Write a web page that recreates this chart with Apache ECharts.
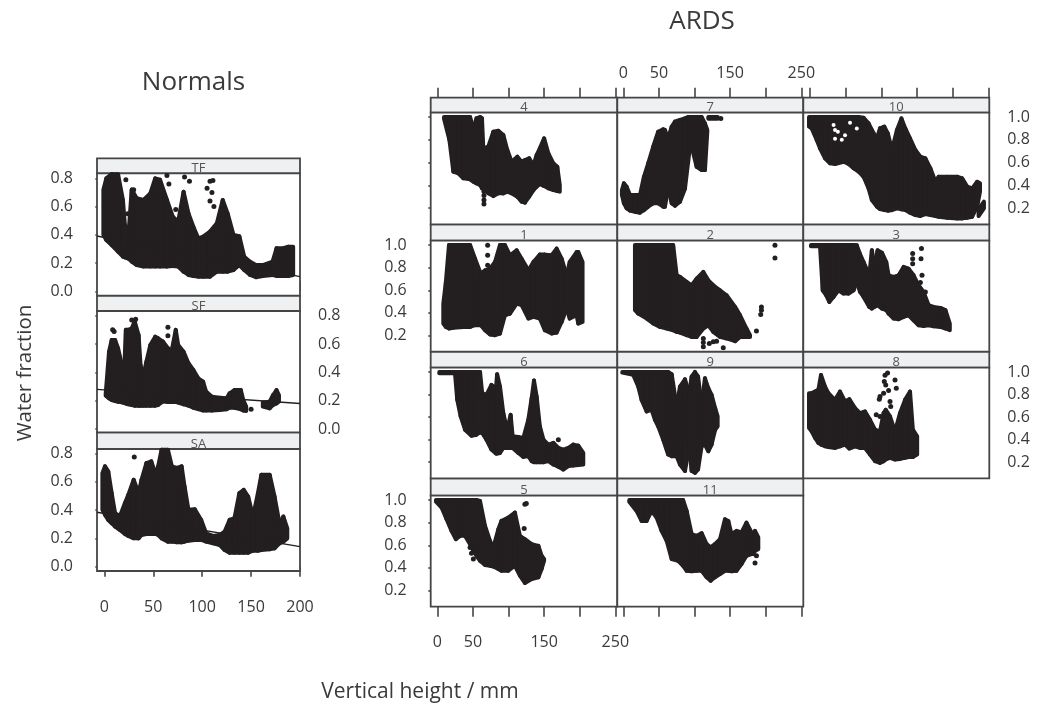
<!DOCTYPE html>
<html>
<head>
<meta charset="utf-8">
<title>Water fraction by vertical height</title>
<script src="https://cdn.jsdelivr.net/npm/echarts@6/dist/echarts.min.js"></script>
<style>
  html,body{margin:0;padding:0;background:#fff;}
  #main{width:1038px;height:709px;}
</style>
</head>
<body>
<div id="main"></div>
<script>
// blobs are far too dense to read point by point, so each one is read as columns of [height, low, high]
// null = gap in the blob

const bandTF=[[-1,.40,.72],[2,.364,.80],[7.5,.328,.83],[14,.281,.83],[19,.245,.647],[21,.24,.47],[25,.23,.434],[28,.21,.722],[33,.186,.659],[40,.175,.647],[47,.175,.694],[52,.175,.80],[57,.175,.79],[64,.175,.647],[70,.18,.529],[75.5,.175,.493],[81,.139,.706],[86,.116,.552],[91,.109,.458],[96,.104,.375],[101,.104,.387],[108,.104,.423],[115,.139,.482],[121,.139,.647],[126,.139,.552],[132,.151,.40],[138,.186,.39],[143,.151,.245],[149,.116,.21],[155,.10,.186],[162,.109,.186],[172,.116,.21],[176,.109,.305],[183,.109,.305],[188,.109,.316],[193,.116,.316]];
const dotsTF=[[22,.79],[30,.72],[24,.55],[64,.82],[66,.76],[82,.81],[87,.78],[108,.78],[111,.785],[105,.73],[110,.70],[108,.64],[112,.60],[73,.58]];
const fitTF=[[-7.5,.392],[200,.104]];

const bandSF=[[1.4,.235,.25],[4.8,.217,.546],[7.5,.205,.629],[11,.198,.629],[14,.193,.57],[18,.188,.452],[20,.185,.36],[22,.18,.70],[24.5,.175,.70],[28,.17,.71],[31,.165,.76],[35,.165,.664],[37,.165,.452],[40,.165,.381],[43,.165,.476],[47,.165,.593],[52,.165,.652],[55,.17,.64],[60,.195,.617],[65,.19,.57],[69,.19,.558],[73,.19,.70],[75.5,.187,.593],[81,.175,.546],[86,.165,.464],[91,.15,.417],[96,.14,.358],[101,.13,.334],[104,.13,.264],[110,.13,.228],[118,.135,.221],[125,.14,.217],[128,.15,.252],[133,.15,.275],[139.5,.14,.275],[142,.13,.205],[145,.127,.158],null,[162,.158,.188],[169,.146,.193],[172.5,.17,.24],[176,.181,.275],[178.5,.193,.24]];
const dotsSF=[[8.5,.70],[10,.688],[65,.718],[65,.659],[150,.139],[28,.77],[32,.775]];
const fitSF=[[-7.5,.28],[200,.18]];

const bandSA=[[-2,.401,.66],[.7,.366,.708],[4,.33,.672],[7.5,.307,.519],[11,.283,.377],[16,.259,.358],[21,.231,.448],[24.5,.217,.507],[30,.20,.613],[35,.20,.519],[38,.224,.613],[43,.231,.731],[48,.231,.743],[52,.231,.66],[55,.224,.708],[58.5,.20,.825],[65,.177,.825],[69,.177,.708],[74,.172,.696],[79,.172,.708],[82,.177,.566],[86,.184,.401],[92.5,.189,.406],[99,.189,.33],[104,.177,.236],[111,.165,.217],[118,.153,.224],[123,.118,.248],[128,.099,.33],[133,.099,.342],[138,.099,.519],[142.5,.099,.542],[147,.099,.495],[152,.113,.354],[157,.113,.519],[160.5,.118,.649],[169,.123,.649],[174,.13,.495],[179,.165,.307],[183,.177,.354],[187,.20,.271]];
const dotsSA=[[30.6,.774]];
const fitSA=[[-7.5,.384],[200,.142]];

const band4=[[9.4,.985,1],[17,.798,1],[22.5,.52,1],[29.5,.505,1],[36.5,.461,1],[46,.452,1],[50.6,.431,.90],[55,.417,.988],[60,.402,1],[62.7,.373,.99],[64.6,.388,.725],[71.6,.329,.739],[78.7,.305,.871],[85.7,.329,.88],[92.7,.329,.842],[98.3,.344,.71],[104.4,.329,.607],[112.4,.30,.651],[118.4,.256,.607],[123,.247,.622],[129,.30,.637],[135,.358,.578],[139.5,.388,.666],[144,.411,.725],[150,.393,.812],[156,.373,.68],[163,.358,.593],[168.5,.35,.563],[172,.344,.402]];
const dots4=[[65.5,.345],[65.5,.31],[65.5,.27],[65.5,.235]];

const band7=[[-1.9,.314,.358],[.9,.241,.417],[4.7,.197,.388],[9.4,.177,.314],[16.4,.168,.314],[23.4,.159,.314],[29,.182,.475],[35,.212,.593],[42,.241,.739],[49,.241,.871],[56,.212,.892],[58.5,.212,.886],[63,.373,.812],[68,.241,.915],[72.6,.22,.959],[79.6,.256,.974],[86.6,.37,.988],[91,.60,1],[93.6,.739,1],[96,.739,1],[103,.563,1],[110,.534,1],[114.7,.534,.944],[118,.871,.886],null,[119.4,.985,1],[132.6,.985,1]];
const dots7=[[137,.988]];

const band10=[[-1.4,.915,1],[2.3,.90,1],[9.4,.798,1],[14,.725,1],[21,.637,1],[28,.593,1],[35,.587,1],[47,.607,1],[54,.587,1],[61,.549,1],[68,.52,1],[75,.475,.994],[82,.373,.944],[86.6,.27,.886],[93.6,.212,.812],[98,.191,.90],[104,.182,.915],[109,.177,.856],[114.7,.182,.71],[121.7,.197,.886],[128,.188,.988],[133.4,.182,.90],[140,.159,.812],[147.5,.138,.71],[154.5,.13,.651],[161.5,.147,.637],[168.5,.138,.549],[175.6,.13,.431],[180,.124,.475],[192,.115,.475],[206,.109,.475],[213,.109,.461],[220,.115,.388],[227,.124,.373],[234,.212,.431],[238,.344,.417],null,[236,.13,.19],[243.5,.197,.256]];
const holes10=[[33,.93],[35,.886],[39,.87],[35,.81],[44.5,.80],[49,.84],[56,.95],[65.5,.90]];

const band1=[[8.4,.306,.482],[12,.276,.674],[16.4,.262,1],[22.5,.268,1],[36.5,.276,1],[46,.276,1],[53,.291,.879],[61,.291,.747],[67,.247,.776],[74,.209,.791],[81,.203,.85],[88,.218,1],[95,.379,1],[102,.394,.909],[111.4,.482,.953],[118.4,.468,.879],[128,.35,.776],[135,.365,.85],[144,.35,.915],[151,.247,.915],[160.6,.218,.909],[167.6,.226,.968],[174.6,.32,.879],[181.6,.438,.732],[186,.35,.85],[195.7,.379,.938],[198,.306,.938],[204,.32,.85]];
const dots1=[[70.7,.997],[70.7,.91],[70.7,.82]];

const band2=[[16.4,.424,1],[21,.394,1],[33,.35,1],[42,.306,1],[51.5,.276,1],[61,.262,1],[70,.247,1],[75,.232,.732],[79.6,.226,.718],[89,.203,.674],[96,.188,.644],[103,.188,.703],[112.4,.262,.762],[119.4,.291,.688],[126.4,.232,.644],[135.8,.188,.60],[145,.174,.556],[157,.15,.453],[164,.188,.379],[173,.188,.262],[178,.188,.203]];
const dots2=[[112.4,.174],[112.4,.138],[112.4,.10],[120.8,.129],[126.4,.144],[131,.15],[140.4,.091],[187,.241],[194,.453],[194,.424],[193,.385],[213,.997],[213,.885]];

const band3=[[1.4,.99,1],[14,.99,1],[17.8,.60,1],[22.5,.556,1],[27,.497,1],[32.8,.541,1],[39.8,.60,1],[46.8,.571,1],[54,.571,1],[61,.60,1],[65.5,.674,.997],[70,.585,.92],[75,.541,.85],[83,.453,.732],[86.6,.438,.953],[90,.453,.82],[94.6,.468,.953],[100.7,.438,.932],[106.7,.424,.85],[110,.394,.732],[117,.35,.718],[124,.344,.732],[131,.365,.806],[138,.379,.791],[145,.335,.732],[152,.291,.644],[159,.285,.585],[166,.291,.468],[173,.282,.453],[182.6,.276,.444],[189.6,.262,.424],[195.7,.247,.306]];
const dots3=[[143.7,.924],[143.7,.879],[143.7,.835],[156,.968],[155.4,.879],[156.8,.732],[154.5,.668],[161.5,.585]];

const band6=[[2.8,.988,1],[24.8,.988,1],[28,.753,1],[32.8,.606,1],[38.9,.488,1],[48,.435,1],[55,.444,1],[60,.465,1],[63,.459,.812],[69,.40,.797],[76,.312,.885],[82.4,.276,.856],[84,.276,.98],[88,.282,.871],[92.7,.326,.635],[98,.326,.488],[103,.326,.62],[105.8,.326,.429],[113.8,.282,.424],[120.8,.247,.415],[127.8,.253,.576],[132.5,.209,.768],[135.8,.20,.924],[139.5,.20,.782],[144,.20,.518],[149,.20,.40],[156,.209,.356],[163,.179,.371],[170,.159,.326],[177,.135,.312],[184,.165,.326],[191,.171,.356],[198,.174,.347],[205,.179,.282]];
const dots6=[[170,.40]];

const band9=[[-1.4,.994,1],[14,.974,1],[21,.871,1],[25.7,.753,1],[32.8,.65,1],[39.8,.665,1],[44.5,.576,1],[49,.518,1],[56,.40,1],[63,.268,1],[68,.253,.98],[75,.253,.694],[79.6,.179,.871],[86.6,.121,.935],[92.7,.341,.812],[96,.121,.959],[100.7,.106,1],[105,.135,.959],[110,.341,.709],[114.7,.356,.944],[119.4,.297,.856],[124,.356,.797],[129,.488,.679],[132.5,.518,.606]];

const band8=[[-1.4,.503,.812],[2.3,.474,.812],[7,.415,.826],[11.7,.371,.841],[15.4,.356,.974],[21,.341,.871],[25.7,.335,.812],[35,.326,.753],[42,.341,.826],[49,.356,.738],[55,.321,.759],[63,.341,.679],[70,.326,.635],[77,.326,.65],[84,.268,.576],[91,.209,.488],[98,.194,.474],[103,.209,.635],[106,.224,.665],[112,.238,.606],[119,.224,.474],[126,.229,.635],[133,.238,.753],[140,.247,.826],[144,.247,.488],[150,.268,.429]];
const dots8=[[108.6,.99],[105,.97],[119,.93],[104,.915],[106,.885],[120.8,.856],[110,.835],[98,.782],[103,.812],[97,.759],[112,.738],[113,.694],[92.7,.62],[98,.606]];

const band5=[[-1.9,.985,1],[6,.933,1],[13,.83,1],[20,.727,1],[26,.654,1],[32,.683,1],[39,.683,1],[46,.61,1],[50.6,.551,1],[55,.507,1],[60,.463,.991],[67,.425,.771],[74,.419,.639],[78.7,.413,.581],[85.7,.39,.742],[90,.375,.815],[99.7,.375,.845],[109,.419,.889],[116,.331,.683],[123,.267,.654],[132.5,.302,.61],[142,.317,.595],[146.5,.39,.507],[150,.463,.478]];
const dots5=[[123,.962],[125,.97],[122,.748],[46,.58],[50.6,.478],[48,.53]];

const band11=[[8.4,.985,1],[18.7,.903,1],[25.7,.815,1],[32.8,.815,1],[39.8,.903,1],[46.8,.845,1],[53.8,.727,1],[60.9,.639,1],[67.9,.478,1],[77,.463,1],[84,.419,1],[89,.375,.903],[96,.37,.698],[103,.375,.683],[110,.375,.707],[117,.317,.61],[122.7,.287,.581],[128.7,.317,.61],[135.8,.346,.654],[142.8,.375,.83],[147.5,.375,.815],[152,.37,.698],[159,.375,.727],[166,.434,.713],[173,.507,.80],[180,.522,.713],[182.6,.522,.625],[185,.551,.727],[189.6,.566,.669]];
const dots11=[[187,.507],[185,.443]];

const normalTicksX=[0,50,100,150,200];
const normalTicksY=[0,.2,.4,.6,.8];
const ardsTicksX=[0,50,100,150,200,250];
const ardsLabelsX=[0,50,150,250];
const ardsTicksY=[.2,.4,.6,.8,1];

const INK='#231f20';
const FRAME='#454545';
const TEXT='#3a3a3a';
const FONT='"Open Sans"';
const STRIP_FILL='#eff0f2';

// frames in px, [left,right] and [stripTop,plotTop,plotBottom]
const normalX=[97,300];
const normalRows=[[158.3,173.3,295.7],[295.7,311,432.3],[432.3,449,571]];
const ardsCols=[[430.7,617.3],[617.3,803.3],[803.3,989.3]];
const ardsRows=[[97.7,112.7,224.3],[224.3,240.7,351.7],[351.7,367.7,478.3],[478.3,495.7,606.7]];

function normalPanel(name,band,dots,fit,row,yMin,yMax,f){
  return Object.assign({name,band,dots,fit,
    cols:normalX,row:normalRows[row],xMin:-7.5,xMax:200,yMin,yMax,
    ticksX:normalTicksX,labelsX:normalTicksX,ticksY:normalTicksY,tickL:true,tickR:true},f);
}
function ardsPanel(name,band,dots,col,row,xMin,xMax,f){
  return Object.assign({name,band,dots,
    cols:ardsCols[col],row:ardsRows[row],xMin,xMax,yMin:.057,yMax:1.038,
    ticksX:ardsTicksX,labelsX:ardsLabelsX,ticksY:ardsTicksY},f);
}

const panels=[
  normalPanel('TF',bandTF,dotsTF,fitTF,0,-.031,.836,{tickT:true,labelL:true}),
  normalPanel('SF',bandSF,dotsSF,fitSF,1,-.023,.833,{labelR:true}),
  normalPanel('SA',bandSA,dotsSA,fitSA,2,-.03,.83,{tickB:true,labelB:true,labelL:true}),
  ardsPanel('4',band4,dots4,0,0,-9.3,252.8,{tickT:true,tickL:true}),
  ardsPanel('7',band7,dots7,1,0,-8.4,252.8,{tickT:true,labelT:true}),
  ardsPanel('10',band10,[],2,0,-9.4,251,{tickT:true,tickR:true,labelR:true,holes:holes10}),
  ardsPanel('1',band1,dots1,0,1,-9.3,252.8,{tickL:true,labelL:true}),
  ardsPanel('2',band2,dots2,1,1,-8.4,252.8,{}),
  ardsPanel('3',band3,dots3,2,1,-9.4,251,{tickR:true}),
  ardsPanel('6',band6,dots6,0,2,-9.3,252.8,{tickL:true}),
  ardsPanel('9',band9,[],1,2,-8.4,252.8,{}),
  ardsPanel('8',band8,dots8,2,2,-9.4,251,{tickR:true,labelR:true}),
  ardsPanel('5',band5,dots5,0,3,-9.3,252.8,{tickL:true,labelL:true,tickB:true,labelB:true}),
  ardsPanel('11',band11,dots11,1,3,-8.4,252.8,{tickR:true,tickB:true})
];

function renderBand(rows){
  return function(params,api){
    const a=rows[params.dataIndex], b=rows[params.dataIndex+1];
    if(!a||!b) return;
    return {
      type:'polygon',
      shape:{points:[api.coord([a[0],a[2]]),api.coord([b[0],b[2]]),api.coord([b[0],b[1]]),api.coord([a[0],a[1]])]},
      style:{fill:INK,stroke:INK,lineWidth:4,lineJoin:'round'}
    };
  };
}

function axisStyle(ticks,labels,showTick,showLabel,len,margin,fmt){
  return {
    axisLine:{show:false},
    splitLine:{show:false},
    axisTick:{show:!!showTick,length:len,customValues:ticks,lineStyle:{color:FRAME,width:1.6}},
    axisLabel:{show:!!showLabel,customValues:labels,margin,color:TEXT,fontFamily:FONT,fontSize:16,formatter:fmt}
  };
}

const grid=[],xAxis=[],yAxis=[],series=[],graphic=[];
panels.forEach((p,i)=>{
  const [left,right]=p.cols, [stripTop,top,bottom]=p.row;
  grid.push({left,top,width:right-left,height:bottom-top,show:true,z:1,
    backgroundColor:'#fff',borderColor:FRAME,borderWidth:1.8});
  const stripH=top-stripTop;
  // bottom x axis, then top x axis lifted over the strip
  xAxis.push(Object.assign({type:'value',gridIndex:i,position:'bottom',min:p.xMin,max:p.xMax},
    axisStyle(p.ticksX,p.labelsX,p.tickB,p.labelB,10,28,v=>String(v))));
  xAxis.push(Object.assign({type:'value',gridIndex:i,position:'top',offset:stripH,min:p.xMin,max:p.xMax},
    axisStyle(p.ticksX,p.labelsX,p.tickT,p.labelT,10,16,v=>String(v))));
  yAxis.push(Object.assign({type:'value',gridIndex:i,position:'left',min:p.yMin,max:p.yMax},
    axisStyle(p.ticksY,p.ticksY,p.tickL,p.labelL,9,24,v=>v.toFixed(1))));
  yAxis.push(Object.assign({type:'value',gridIndex:i,position:'right',min:p.yMin,max:p.yMax},
    axisStyle(p.ticksY,p.ticksY,p.tickR,p.labelR,9,18,v=>v.toFixed(1))));
  const xi=i*2, yi=i*2;
  series.push({type:'custom',xAxisIndex:xi,yAxisIndex:yi,silent:true,z:2,
    renderItem:renderBand(p.band),
    encode:{x:0,y:[1,2]},
    data:p.band.map(r=>r||['-','-','-'])});
  if(p.dots.length) series.push({type:'scatter',xAxisIndex:xi,yAxisIndex:yi,silent:true,z:3,
    symbolSize:5,itemStyle:{color:INK,opacity:1},data:p.dots});
  if(p.holes) series.push({type:'scatter',xAxisIndex:xi,yAxisIndex:yi,silent:true,z:4,
    symbolSize:4,itemStyle:{color:'#fff',opacity:1},data:p.holes});
  if(p.fit) series.push({type:'line',xAxisIndex:xi,yAxisIndex:yi,silent:true,z:3,
    showSymbol:false,lineStyle:{color:INK,width:1.4},data:p.fit});
  graphic.push({type:'rect',silent:true,
    shape:{x:left,y:stripTop,width:right-left,height:stripH},
    style:{fill:STRIP_FILL,stroke:FRAME,lineWidth:1.8}});
  graphic.push({type:'text',silent:true,
    style:{x:(left+right)/2,y:top+1.5,text:p.name,align:'center',verticalAlign:'bottom',
      fill:'#555',fontFamily:FONT,fontSize:13}});
});

graphic.push({type:'text',silent:true,rotation:Math.PI/2,x:25,y:373,
  style:{text:'Water fraction',align:'center',verticalAlign:'middle',fill:TEXT,fontFamily:FONT,fontSize:20.5}});
graphic.push({type:'text',silent:true,x:420,y:692,
  style:{text:'Vertical height / mm',align:'center',verticalAlign:'middle',fill:TEXT,fontFamily:FONT,fontSize:21}});

const chart=echarts.init(document.getElementById('main'),null,{renderer:'canvas'});
chart.setOption({
  animation:false,
  backgroundColor:'#fff',
  title:[
    {text:'Normals',left:188.5,top:65,textAlign:'center',textStyle:{color:TEXT,fontFamily:FONT,fontSize:26,fontWeight:'normal'}},
    {text:'ARDS',left:697,top:4,textAlign:'center',textStyle:{color:TEXT,fontFamily:FONT,fontSize:26,fontWeight:'normal'}}
  ],
  grid,xAxis,yAxis,series,graphic
});
</script>
</body>
</html>
